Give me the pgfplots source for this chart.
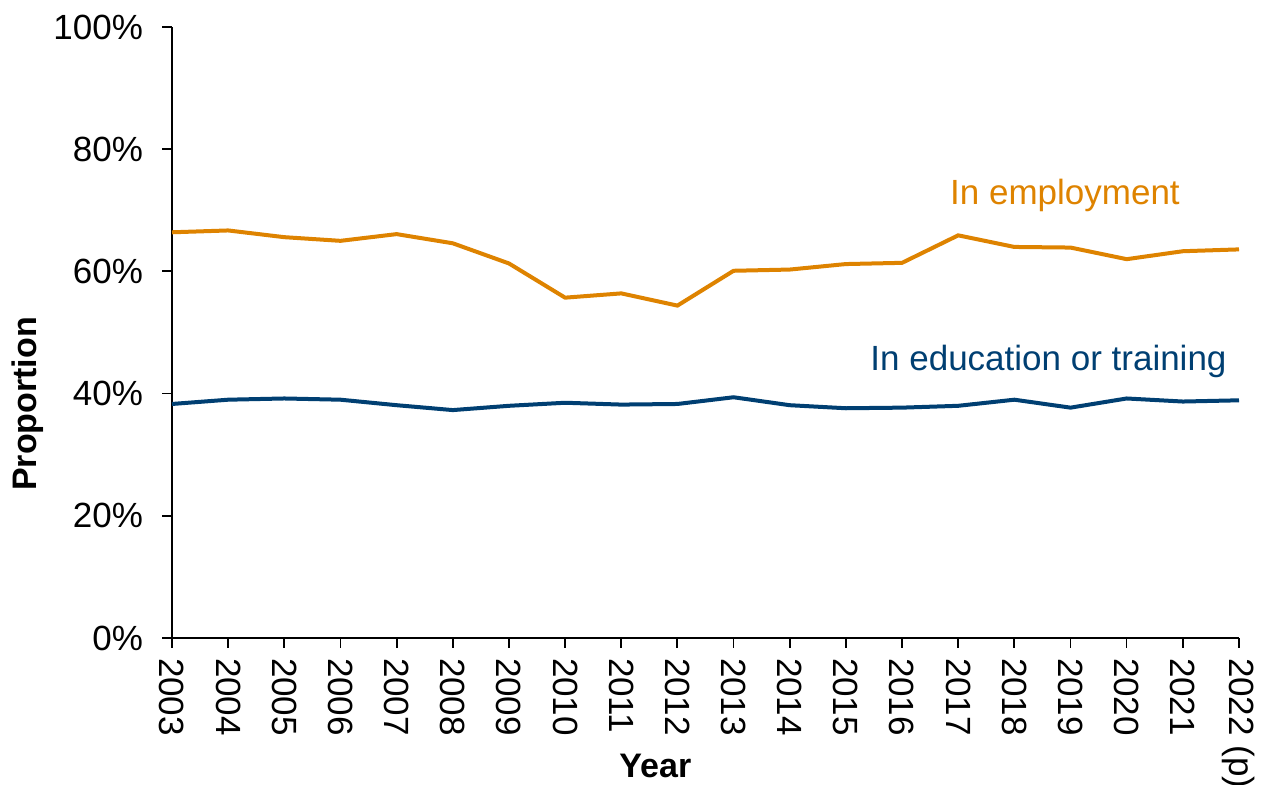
\documentclass[border=0pt]{standalone}
\usepackage{pgfplots}
\pgfplotsset{compat=1.18}
\usepackage{fontspec}
\setmainfont{Liberation Sans}
\definecolor{emp}{RGB}{222,131,0}
\definecolor{edu}{RGB}{0,63,114}
\begin{document}
\begin{tikzpicture}
\path[use as bounding box] (-86pt,-73.5pt) rectangle (545.5pt,319pt);
\begin{axis}[
  at={(0,0)}, anchor=south west,
  scale only axis, width=533.5pt, height=305.5pt,
  xmin=2003, xmax=2022, ymin=0, ymax=100,
  axis x line*=bottom, axis y line*=left,
  axis line style={line width=0.9pt},
  xtick={2003,...,2022},
  xticklabels={2003,2004,2005,2006,2007,2008,2009,2010,2011,2012,2013,2014,2015,2016,2017,2018,2019,2020,2021,2022 (p)},
  ytick={0,20,40,60,80,100},
  yticklabels={0\%,20\%,40\%,60\%,80\%,100\%},
  tick style={black, line width=0.9pt},
  tick align=outside, major tick length=5pt,
  x tick label style={rotate=-90, anchor=west, font=\fontsize{17.5}{20}\selectfont, xshift=1.5pt},
  y tick label style={font=\fontsize{17.5}{20}\selectfont},
  yticklabel style={xshift=-6pt},
  clip=false,
]
\addplot[emp, line width=2pt] coordinates {
(2003,66.4)(2004,66.7)(2005,65.6)(2006,65.0)(2007,66.1)(2008,64.6)(2009,61.3)(2010,55.7)(2011,56.4)(2012,54.4)
(2013,60.1)(2014,60.3)(2015,61.2)(2016,61.4)(2017,65.9)(2018,64.0)(2019,63.9)(2020,62.0)(2021,63.3)(2022,63.6)};
\addplot[edu, line width=2pt] coordinates {
(2003,38.3)(2004,39.0)(2005,39.2)(2006,39.0)(2007,38.1)(2008,37.3)(2009,38.0)(2010,38.5)(2011,38.2)(2012,38.3)
(2013,39.4)(2014,38.1)(2015,37.6)(2016,37.7)(2017,38.0)(2018,39.0)(2019,37.7)(2020,39.2)(2021,38.7)(2022,38.9)};
\node[anchor=west, text=emp, font=\fontsize{17.5}{20}\selectfont, inner sep=0pt] at (axis cs:2016.85,72.5) {In employment};
\node[anchor=west, text=edu, font=\fontsize{17.5}{20}\selectfont, inner sep=0pt] at (axis cs:2015.43,45.2) {In education or training};
\node[font=\fontsize{17}{20}\selectfont\bfseries] at (rel axis cs:0.453,0) [yshift=-64pt] {Year};
\node[rotate=90, font=\fontsize{17}{20}\selectfont\bfseries] at (rel axis cs:0,0.383) [yshift=72pt] {Proportion};
\end{axis}
\end{tikzpicture}
\end{document}
